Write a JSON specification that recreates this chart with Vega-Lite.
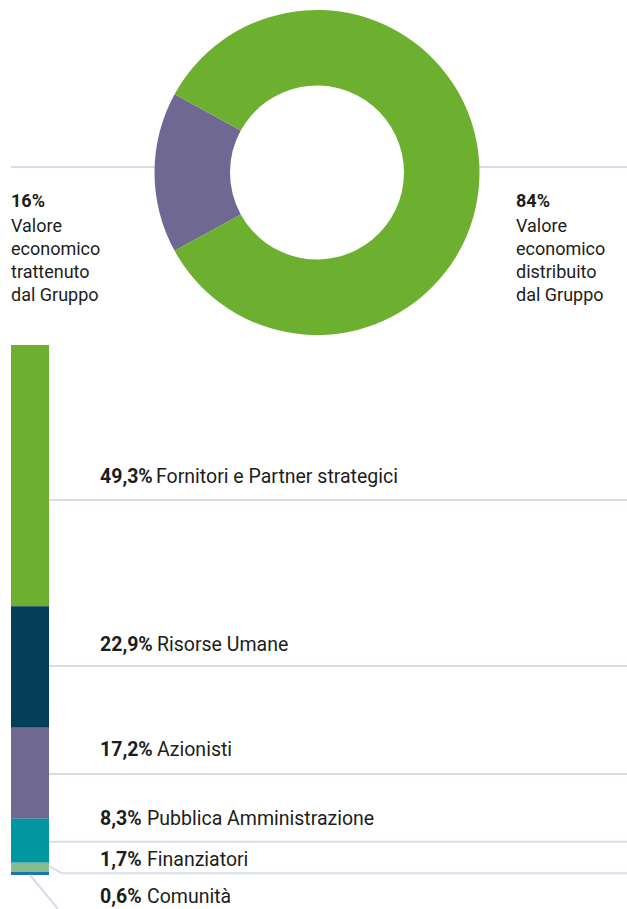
{
  "$schema": "https://vega.github.io/schema/vega-lite/v6.json",
  "width": 627,
  "height": 909,
  "autosize": "none",
  "padding": 0,
  "background": "white",
  "config": {
    "view": {"stroke": null},
    "text": {"font": "Roboto", "fontSize": 18, "color": "#1d1d1b", "baseline": "alphabetic", "align": "left", "lineBreak": "\n", "lineHeight": 23},
    "rule": {"color": "#d6dce8", "strokeWidth": 2}
  },
  "datasets": {
    "donut": [
      {"voce": "Valore economico trattenuto dal Gruppo", "pct": 16, "righe": "Valore\neconomico\ntrattenuto\ndal Gruppo"},
      {"voce": "Valore economico distribuito dal Gruppo", "pct": 84, "righe": "Valore\neconomico\ndistribuito\ndal Gruppo"}
    ],
    "bar": [
      {"voce": "Fornitori e Partner strategici", "pct": 49.3},
      {"voce": "Risorse Umane", "pct": 22.9},
      {"voce": "Azionisti", "pct": 17.2},
      {"voce": "Pubblica Amministrazione", "pct": 8.3},
      {"voce": "Finanziatori", "pct": 1.7},
      {"voce": "Comunità", "pct": 0.6}
    ]
  },
  "layer": [
    {
      "data": {"name": "bar"},
      "transform": [
        {"stack": "pct", "groupby": [], "sort": [{"field": "pct", "order": "ascending"}], "as": ["v0", "v1"]}
      ],
      "mark": {"type": "rect"},
      "encoding": {
        "x": {"datum": 11, "type": "quantitative", "scale": {"domain": [0, 627], "nice": false, "zero": false}, "axis": null},
        "x2": {"datum": 49},
        "y": {"field": "v1", "type": "quantitative", "scale": {"domain": [-6.41509, 165.09434], "nice": false, "zero": false}, "axis": null},
        "y2": {"field": "v0"},
        "color": {
          "field": "voce", "type": "nominal", "legend": null,
          "scale": {
            "domain": ["Fornitori e Partner strategici", "Risorse Umane", "Azionisti", "Pubblica Amministrazione", "Finanziatori", "Comunità", "Valore economico distribuito dal Gruppo", "Valore economico trattenuto dal Gruppo"],
            "range": ["#6daf2e", "#033f58", "#6e6893", "#0097a1", "#89bd8e", "#1b73b8", "#6daf2e", "#6e6893"]
          }
        }
      }
    },
    {
      "data": {"values": [{}]},
      "layer": [
        {"mark": {"type": "rule"}, "encoding": {"x": {"datum": 11, "type": "quantitative"}, "x2": {"datum": 156}, "y": {"datum": 133.585, "type": "quantitative"}}},
        {"mark": {"type": "rule"}, "encoding": {"x": {"datum": 478, "type": "quantitative"}, "x2": {"datum": 627}, "y": {"datum": 133.585, "type": "quantitative"}}}
      ]
    },
    {
      "data": {"name": "donut"},
      "mark": {"type": "arc", "radius": 162.5, "radius2": 87},
      "encoding": {
        "x": {"datum": 317, "type": "quantitative"},
        "y": {"datum": 132.547, "type": "quantitative"},
        "theta": {"field": "pct", "type": "quantitative", "stack": true, "scale": {"range": [4.2097, 10.4929]}},
        "order": {"field": "pct", "type": "quantitative", "sort": "ascending"},
        "color": {"field": "voce", "type": "nominal", "legend": null}
      }
    },
    {
      "data": {"name": "donut"},
      "transform": [{"calculate": "datum.pct + '%'", "as": "pct_txt"}, {"filter": "datum.pct === 16"}],
      "layer": [
        {"mark": {"type": "text", "fontWeight": "bold"}, "encoding": {"x": {"datum": 11, "type": "quantitative"}, "y": {"datum": 126.094, "type": "quantitative"}, "text": {"field": "pct_txt"}}},
        {"mark": {"type": "text"}, "encoding": {"x": {"datum": 11, "type": "quantitative"}, "y": {"datum": 121.377, "type": "quantitative"}, "text": {"field": "righe"}}}
      ]
    },
    {
      "data": {"name": "donut"},
      "transform": [{"calculate": "datum.pct + '%'", "as": "pct_txt"}, {"filter": "datum.pct === 84"}],
      "layer": [
        {"mark": {"type": "text", "fontWeight": "bold"}, "encoding": {"x": {"datum": 516, "type": "quantitative"}, "y": {"datum": 126.094, "type": "quantitative"}, "text": {"field": "pct_txt"}}},
        {"mark": {"type": "text"}, "encoding": {"x": {"datum": 516, "type": "quantitative"}, "y": {"datum": 121.377, "type": "quantitative"}, "text": {"field": "righe"}}}
      ]
    },
    {
      "data": {"name": "bar"},
      "transform": [{"filter": "datum.voce === 'Fornitori e Partner strategici'"}, {"calculate": "replace(format(datum.pct, '.1f'), '.', ',') + '%'", "as": "pct_txt"}],
      "layer": [
        {"mark": {"type": "rule"}, "encoding": {"x": {"datum": 49, "type": "quantitative"}, "x2": {"datum": 627}, "y": {"datum": 70.755, "type": "quantitative"}}},
        {"mark": {"type": "text", "fontWeight": "bold", "fontSize": 19.5}, "encoding": {"x": {"datum": 100, "type": "quantitative"}, "y": {"datum": 73.906, "type": "quantitative"}, "text": {"field": "pct_txt"}}},
        {"mark": {"type": "text", "fontSize": 19.5}, "encoding": {"x": {"datum": 156, "type": "quantitative"}, "y": {"datum": 73.906, "type": "quantitative"}, "text": {"field": "voce"}}}
      ]
    },
    {
      "data": {"name": "bar"},
      "transform": [{"filter": "datum.voce === 'Risorse Umane'"}, {"calculate": "replace(format(datum.pct, '.1f'), '.', ',') + '%'", "as": "pct_txt"}],
      "layer": [
        {"mark": {"type": "rule"}, "encoding": {"x": {"datum": 49, "type": "quantitative"}, "x2": {"datum": 627}, "y": {"datum": 39.434, "type": "quantitative"}}},
        {"mark": {"type": "text", "fontWeight": "bold", "fontSize": 19.5}, "encoding": {"x": {"datum": 100, "type": "quantitative"}, "y": {"datum": 42.264, "type": "quantitative"}, "text": {"field": "pct_txt"}}},
        {"mark": {"type": "text", "fontSize": 19.5}, "encoding": {"x": {"datum": 157, "type": "quantitative"}, "y": {"datum": 42.264, "type": "quantitative"}, "text": {"field": "voce"}}}
      ]
    },
    {
      "data": {"name": "bar"},
      "transform": [{"filter": "datum.voce === 'Azionisti'"}, {"calculate": "replace(format(datum.pct, '.1f'), '.', ',') + '%'", "as": "pct_txt"}],
      "layer": [
        {"mark": {"type": "rule"}, "encoding": {"x": {"datum": 49, "type": "quantitative"}, "x2": {"datum": 627}, "y": {"datum": 19.057, "type": "quantitative"}}},
        {"mark": {"type": "text", "fontWeight": "bold", "fontSize": 19.5}, "encoding": {"x": {"datum": 100, "type": "quantitative"}, "y": {"datum": 22.453, "type": "quantitative"}, "text": {"field": "pct_txt"}}},
        {"mark": {"type": "text", "fontSize": 19.5}, "encoding": {"x": {"datum": 157, "type": "quantitative"}, "y": {"datum": 22.453, "type": "quantitative"}, "text": {"field": "voce"}}}
      ]
    },
    {
      "data": {"name": "bar"},
      "transform": [{"filter": "datum.voce === 'Pubblica Amministrazione'"}, {"calculate": "replace(format(datum.pct, '.1f'), '.', ',') + '%'", "as": "pct_txt"}],
      "layer": [
        {"mark": {"type": "rule"}, "encoding": {"x": {"datum": 49, "type": "quantitative"}, "x2": {"datum": 627}, "y": {"datum": 6.283, "type": "quantitative"}}},
        {"mark": {"type": "text", "fontWeight": "bold", "fontSize": 19.5}, "encoding": {"x": {"datum": 100, "type": "quantitative"}, "y": {"datum": 9.434, "type": "quantitative"}, "text": {"field": "pct_txt"}}},
        {"mark": {"type": "text", "fontSize": 19.5}, "encoding": {"x": {"datum": 147, "type": "quantitative"}, "y": {"datum": 9.434, "type": "quantitative"}, "text": {"field": "voce"}}}
      ]
    },
    {
      "data": {"name": "bar"},
      "transform": [{"filter": "datum.voce === 'Finanziatori'"}, {"calculate": "replace(format(datum.pct, '.1f'), '.', ',') + '%'", "as": "pct_txt"}],
      "layer": [
        {"mark": {"type": "rule"}, "encoding": {"x": {"datum": 49, "type": "quantitative"}, "x2": {"datum": 62}, "y": {"datum": 1.698, "type": "quantitative"}, "y2": {"datum": 0.321}}},
        {"mark": {"type": "rule"}, "encoding": {"x": {"datum": 62, "type": "quantitative"}, "x2": {"datum": 627}, "y": {"datum": 0.321, "type": "quantitative"}}},
        {"mark": {"type": "text", "fontWeight": "bold", "fontSize": 19.5}, "encoding": {"x": {"datum": 100, "type": "quantitative"}, "y": {"datum": 1.698, "type": "quantitative"}, "text": {"field": "pct_txt"}}},
        {"mark": {"type": "text", "fontSize": 19.5}, "encoding": {"x": {"datum": 147, "type": "quantitative"}, "y": {"datum": 1.698, "type": "quantitative"}, "text": {"field": "voce"}}}
      ]
    },
    {
      "data": {"name": "bar"},
      "transform": [{"filter": "datum.voce === 'Comunità'"}, {"calculate": "replace(format(datum.pct, '.1f'), '.', ',') + '%'", "as": "pct_txt"}],
      "layer": [
        {"mark": {"type": "rule"}, "encoding": {"x": {"datum": 30, "type": "quantitative"}, "x2": {"datum": 58}, "y": {"datum": 0, "type": "quantitative"}, "y2": {"datum": -6.415}}},
        {"mark": {"type": "text", "fontWeight": "bold", "fontSize": 19.5}, "encoding": {"x": {"datum": 100, "type": "quantitative"}, "y": {"datum": -5.283, "type": "quantitative"}, "text": {"field": "pct_txt"}}},
        {"mark": {"type": "text", "fontSize": 19.5}, "encoding": {"x": {"datum": 147, "type": "quantitative"}, "y": {"datum": -5.283, "type": "quantitative"}, "text": {"field": "voce"}}}
      ]
    }
  ]
}
